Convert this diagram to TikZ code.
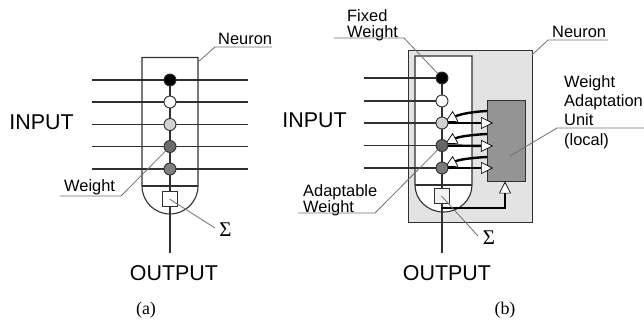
\documentclass[tikz,border=0pt]{standalone}
\usepackage{fontspec}
\setmainfont{Liberation Sans}
\newfontfamily\capfont{Liberation Serif}
\usetikzlibrary{arrows.meta}
\definecolor{ln}{HTML}{303030}
\definecolor{lead}{HTML}{707070}
\tikzset{
  x=1bp,y=-1bp,
  wire/.style={draw=ln,line width=1.1bp},
  leadline/.style={draw=lead,line width=0.8bp},
  wt/.style={circle,draw=ln,line width=0.9bp,minimum size=12bp,inner sep=0pt},
  sumbox/.style={rectangle,draw=ln,line width=0.9bp,fill=white,minimum size=15bp,inner sep=0pt},
  big/.style={font=\fontsize{21.5}{24}\selectfont,inner sep=0pt},
  small/.style={font=\fontsize{16.5}{16}\selectfont,inner sep=0pt,align=left},
  sig/.style={font=\capfont\fontsize{21}{22}\selectfont,inner sep=0pt},
  captext/.style={font=\capfont\fontsize{18}{20}\selectfont,inner sep=0pt},
  thickarrow/.style={draw=black,line width=2.4bp,-{Triangle[width=12bp,length=12bp,fill=white,line width=0.7bp]}},
}
\begin{document}
\begin{tikzpicture}
\useasboundingbox (0,0) rectangle (644,322);
% ---------- (a)
\coordinate (aNtl) at (142,57.5);
\coordinate (aNtr) at (198,57.5);
\coordinate (aNdl) at (142,186);
\coordinate (aNdr) at (198,186);
\foreach \n/\y in {1/80,2/102,3/124.5,4/146.5,5/169}{
  \coordinate (aL\n) at (92,\y);
  \coordinate (aR\n) at (248,\y);
  \draw[wire] (aL\n) -- (aR\n);
}
\coordinate (aOut) at (170,253);
\draw[wire] (170,80) -- (aOut);
\draw[wire] (aNdl) -- (aNtl) -- (aNtr) -- (aNdr) arc[start angle=0,end angle=180,radius=28];
\draw[wire] (aNdl) -- (aNdr);
\node[wt,fill=black] (a1) at (170,80) {};
\node[wt,fill=white] (a2) at (170,102) {};
\node[wt,fill=black!18] (a3) at (170,124.5) {};
\node[wt,fill=black!58] (a4) at (170,146.5) {};
\node[wt,fill=black!50] (a5) at (170,169) {};
\node[sumbox] (aS) at (169.5,199) {};
\node[small,anchor=west] (aNeuron) at (218,39) {Neuron};
\node[small,anchor=west] (aWeight) at (64,187.5) {Weight};
\node[sig] (aSig) at (225.5,229.5) {Σ};
\node[big] (aInput) at (41.5,122) {INPUT};
\node[big] (aOutput) at (174,273) {OUTPUT};
\node[captext] (aCap) at (146,310) {(a)};
\coordinate (aN1) at (272,47);
\coordinate (aN2) at (215,47);
\coordinate (aNs) at (198,62);
\coordinate (aW1) at (60,196);
\coordinate (aW2) at (121,196);
\coordinate (aSe) at (215,228);
\draw[leadline] (aNs) -- (aN2) -- (aN1);
\draw[leadline] (aW1) -- (aW2) -- (a4);
\draw[leadline] (aS.center) -- (aSe);
% ---------- (b)
\node[rectangle,draw=ln,line width=0.9bp,fill=black!11,minimum width=124bp,minimum height=172bp,inner sep=0pt] (bCell) at (470,136) {};
\coordinate (bNtl) at (415,56);
\coordinate (bNtr) at (472,56);
\coordinate (bNdl) at (415,185);
\coordinate (bNdr) at (472,185);
\draw[wire,fill=white] (bNdl) -- (bNtl) -- (bNtr) -- (bNdr) arc[start angle=0,end angle=180,x radius=28.5,y radius=27];
\draw[wire] (bNdl) -- (bNdr);
\foreach \n/\y in {1/78,2/101,3/123,4/145.5,5/168}{
  \coordinate (bL\n) at (364,\y);
  \coordinate (bC\n) at (442,\y);
  \draw[wire] (bL\n) -- (bC\n);
}
\coordinate (bOut) at (442,253);
\draw[wire] (bC1) -- (bOut);
\node[rectangle,draw=ln,line width=0.9bp,fill=black!42,minimum width=38bp,minimum height=81bp,inner sep=0pt] (bUnit) at (506,140.5) {};
\node[sumbox,fill=black!5] (bS) at (441.5,196) {};
\coordinate (bT1) at (493,123);
\coordinate (bT2) at (493,146);
\coordinate (bT3) at (493,168);
\coordinate (bF1) at (487,111);
\coordinate (bF2) at (487,134);
\coordinate (bF3) at (487,157);
\draw[thickarrow] (bC3) -- (bT1);
\draw[thickarrow] (bC4) -- (bT2);
\draw[thickarrow] (bC5) -- (bT3);
\draw[thickarrow] (bF1) .. controls (468,112) and (458,115) .. (445,122);
\draw[thickarrow] (bF2) .. controls (468,135) and (458,137) .. (445,144);
\draw[thickarrow] (bF3) .. controls (468,158) and (458,160) .. (445,167);
\node[wt,fill=black] (b1) at (bC1) {};
\node[wt,fill=white] (b2) at (bC2) {};
\node[wt,fill=black!18] (b3) at (bC3) {};
\node[wt,fill=black!60] (b4) at (bC4) {};
\node[wt,fill=black!52] (b5) at (bC5) {};
\coordinate (bSrc) at (441,208);
\coordinate (bSink) at (505,208);
\draw[thickarrow] (bSrc) -- (bSink) -- (bUnit.south -| bSink);
\node[small,anchor=west] (bNeuron) at (552,32) {Neuron};
\node[small,anchor=west] (bFixed) at (347,25.5) {Fixed\\Weight};
\node[small,anchor=west] (bAdapt) at (303,200) {Adaptable\\Weight};
\node[small,anchor=north west,font=\fontsize{16.5}{19.2}\selectfont] (bWAU) at (564,75.5) {Weight\\Adaptation\\Unit\\(local)};
\node[sig] (bSig) at (489,238) {Σ};
\node[big] (bInput) at (314.5,120.5) {INPUT};
\node[big] (bOutput) at (447,273) {OUTPUT};
\node[captext] (bCap) at (505,310) {(b)};
\coordinate (bN1) at (608,40);
\coordinate (bN2) at (548,40);
\coordinate (bNs) at (532,55);
\coordinate (bX1) at (334,38);
\coordinate (bX2) at (404,38);
\coordinate (bA1) at (298,213);
\coordinate (bA2) at (375,213);
\coordinate (bW1) at (644,128);
\coordinate (bW2) at (557,128);
\coordinate (bW3) at (510,156);
\coordinate (bSe) at (478,236);
\draw[leadline] (bNs) -- (bN2) -- (bN1);
\draw[leadline] (bX1) -- (bX2) -- (b1);
\draw[leadline] (bA1) -- (bA2) -- (b4);
\draw[leadline] (bW1) -- (bW2) -- (bW3);
\draw[leadline] (bS.center) -- (bSe);
\end{tikzpicture}
\end{document}
